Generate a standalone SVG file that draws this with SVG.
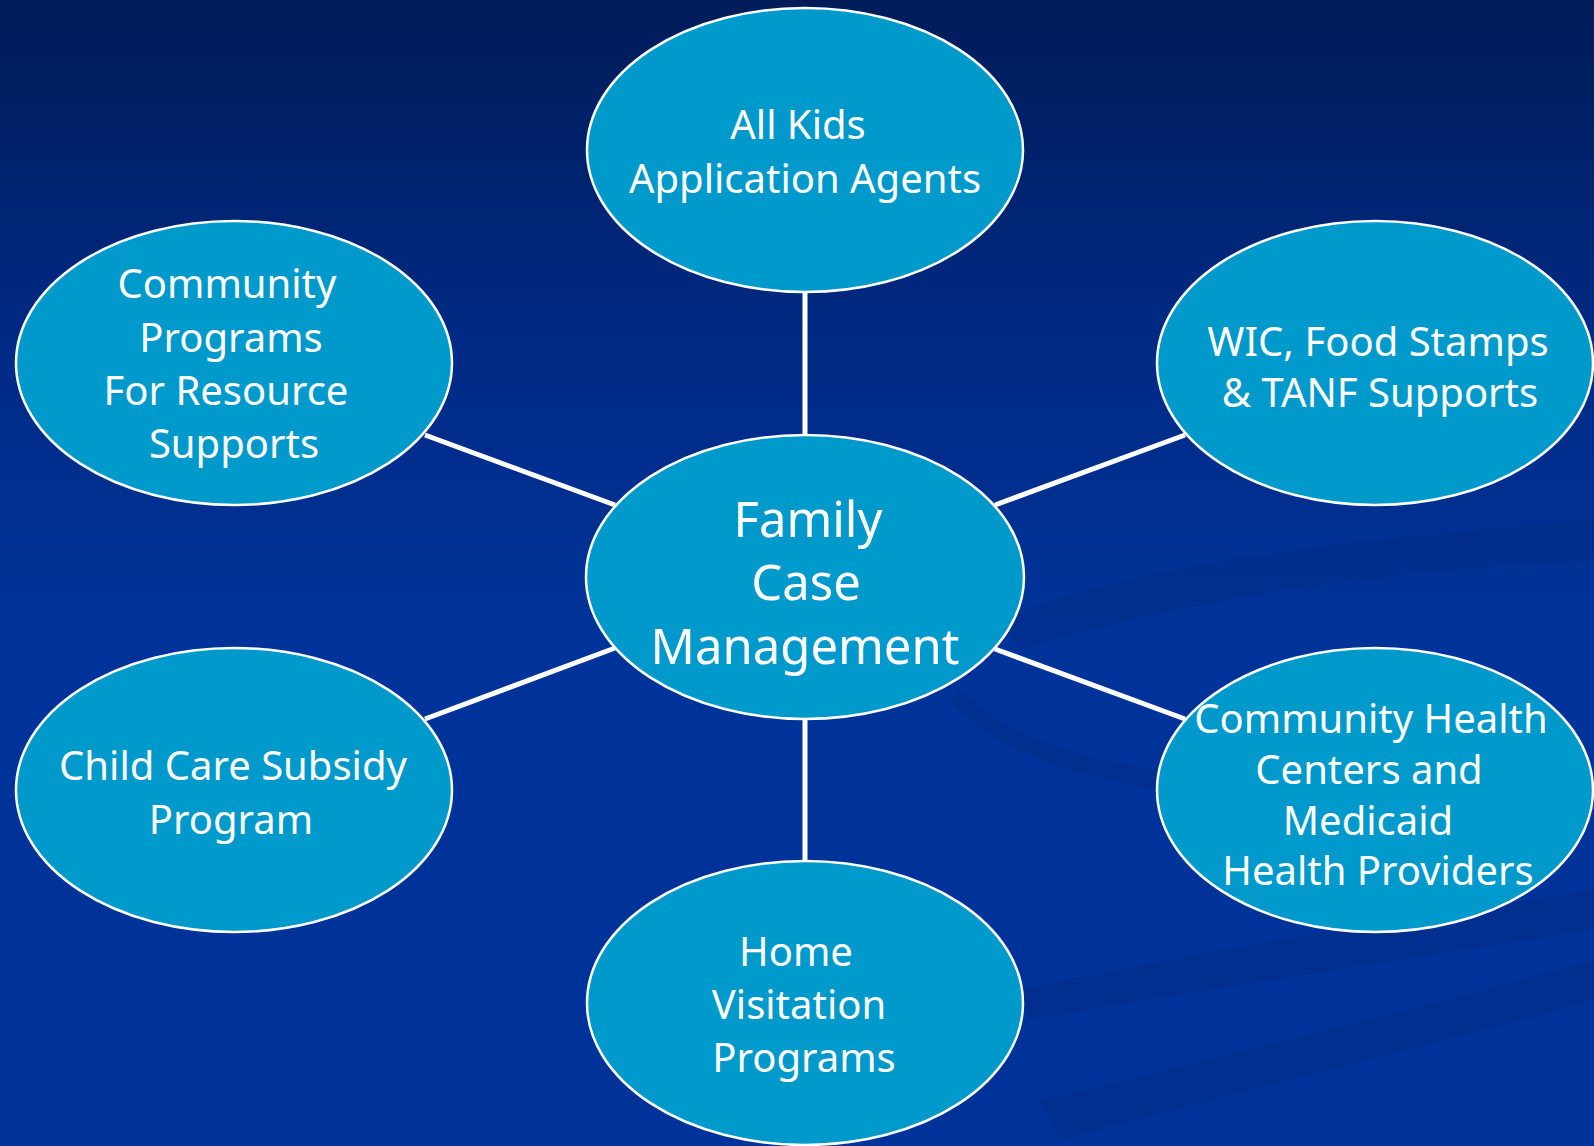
<svg xmlns="http://www.w3.org/2000/svg" width="1594" height="1146" viewBox="0 0 1594 1146">
<defs>
<linearGradient id="bg" x1="0" y1="0" x2="0" y2="1">
<stop offset="0" stop-color="#001C58"/>
<stop offset="0.3" stop-color="#002A85"/>
<stop offset="0.55" stop-color="#003399"/>
<stop offset="1" stop-color="#003399"/>
</linearGradient>
<style>
.node{fill:#0099CC;stroke:#FFFFFF;stroke-width:2.5}
.lbl{font-family:"Noto Sans","DejaVu Sans",sans-serif;font-size:40px;fill:#FFFFFF;text-anchor:middle}
.big{font-size:49px}
.edge{stroke:#FFFFFF;stroke-width:5;fill:none}
.sw{fill:#002A80;opacity:0.4}
</style>
</defs>
<rect width="1594" height="1146" fill="url(#bg)"/>
<g id="swooshes">
<path class="sw" d="M1000,620 C1150,560 1350,540 1594,520 L1594,560 C1380,570 1180,600 1020,650 Z"/>
<path class="sw" d="M950,700 C1000,760 1100,780 1160,790 L1160,770 C1090,760 1010,740 960,690 Z"/>
<path class="sw" d="M1020,990 C1200,950 1400,920 1594,890 L1594,930 C1400,960 1200,990 1030,1020 Z"/>
<path class="sw" d="M1040,1100 C1250,1050 1450,1000 1594,960 L1594,1000 C1450,1040 1250,1090 1060,1140 Z"/>
</g>
<g id="connectors">
<line class="edge" x1="805" y1="292" x2="805" y2="436"/>
<line class="edge" x1="805" y1="719" x2="805" y2="862"/>
<line class="edge" x1="425" y1="435" x2="615" y2="505"/>
<line class="edge" x1="1185" y1="435" x2="995" y2="505"/>
<line class="edge" x1="425" y1="719" x2="615" y2="648"/>
<line class="edge" x1="1185" y1="719" x2="995" y2="649"/>
</g>
<g id="n-top">
<ellipse class="node" cx="805" cy="150" rx="218" ry="142"/>
<text class="lbl" x="798" y="139">All Kids</text>
<text class="lbl" x="805" y="193">Application Agents</text>
</g>
<g id="n-center">
<ellipse class="node" cx="805" cy="577" rx="219" ry="142"/>
<text class="lbl big" x="808" y="537">Family</text>
<text class="lbl big" x="806" y="600">Case</text>
<text class="lbl big" x="805" y="664">Management</text>
</g>
<g id="n-bottom">
<ellipse class="node" cx="805" cy="1003" rx="218" ry="142"/>
<text class="lbl" x="796" y="966">Home</text>
<text class="lbl" x="799" y="1019">Visitation</text>
<text class="lbl" x="804" y="1072">Programs</text>
</g>
<g id="n-left-upper">
<ellipse class="node" cx="234" cy="363" rx="218" ry="142"/>
<text class="lbl" x="227" y="298">Community</text>
<text class="lbl" x="231" y="352">Programs</text>
<text class="lbl" x="226" y="405">For Resource</text>
<text class="lbl" x="234" y="458">Supports</text>
</g>
<g id="n-left-lower">
<ellipse class="node" cx="234" cy="790" rx="218" ry="142"/>
<text class="lbl" x="233" y="780">Child Care Subsidy</text>
<text class="lbl" x="231" y="834">Program</text>
</g>
<g id="n-right-upper">
<ellipse class="node" cx="1375" cy="363" rx="218" ry="142"/>
<text class="lbl" x="1378" y="356">WIC, Food Stamps</text>
<text class="lbl" x="1380" y="407">&amp; TANF Supports</text>
</g>
<g id="n-right-lower">
<ellipse class="node" cx="1375" cy="790" rx="218" ry="142"/>
<text class="lbl" x="1371" y="733">Community Health</text>
<text class="lbl" x="1369" y="784">Centers and</text>
<text class="lbl" x="1368" y="835">Medicaid</text>
<text class="lbl" x="1378" y="885">Health Providers</text>
</g>
</svg>
